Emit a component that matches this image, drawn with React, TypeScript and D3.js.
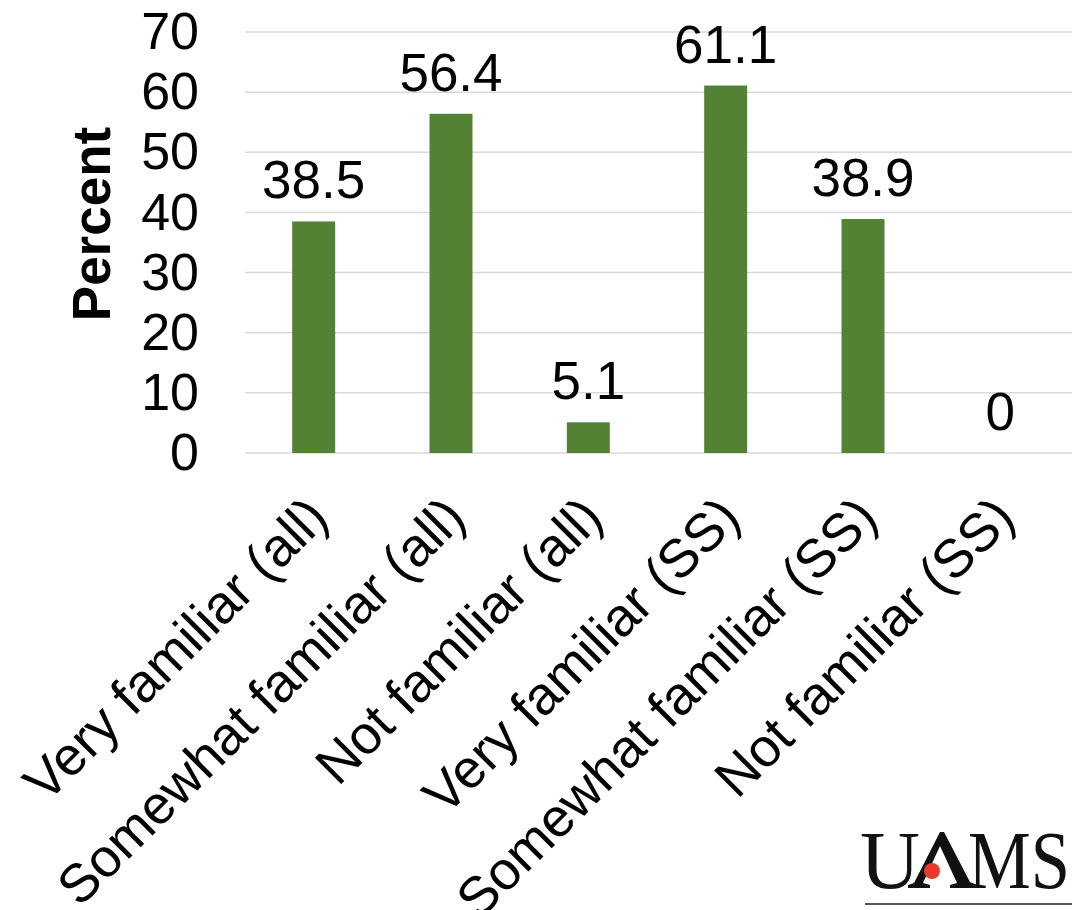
import React from "react";
import * as d3 from "d3";

const categories = [
  "Very familiar (all)",
  "Somewhat familiar (all)",
  "Not familiar (all)",
  "Very familiar (SS)",
  "Somewhat familiar (SS)",
  "Not familiar (SS)",
];
const values = [38.5, 56.4, 5.1, 61.1, 38.9, 0];
const yTicks = [0, 10, 20, 30, 40, 50, 60, 70];
const yLabel = "Percent";

const W = 1072;
const H = 910;
const FONT = "'Liberation Sans', Arial, Helvetica, sans-serif";
const GREEN = "#548235";
const GRID = "#d9d9d9";

export default function App() {
  const x = d3
    .scaleBand<string>()
    .domain(categories)
    .range([245, 1069])
    .paddingInner(0.687)
    .paddingOuter(0.3435);
  const y = d3.scaleLinear().domain([0, 70]).range([453, 32]);

  return (
    <div style={{ position: "absolute", left: 0, top: 0 }}>
      <svg width={W} height={H} viewBox={`0 0 ${W} ${H}`} style={{ display: "block", background: "#fff" }}>
        <rect x={0} y={0} width={W} height={H} fill="#fff" />
        {/* gridlines */}
        {yTicks.map((t) => (
          <line key={"g" + t} x1={245} x2={W} y1={y(t)} y2={y(t)} stroke={GRID} strokeWidth={1.5} />
        ))}
        {/* y tick labels */}
        {yTicks.map((t) => (
          <text
            key={"t" + t}
            x={199}
            y={y(t)}
            dy="0.33em"
            textAnchor="end"
            fontFamily={FONT}
            fontSize={52}
            fill="#000"
          >
            {t}
          </text>
        ))}
        {/* y axis title */}
        <text
          transform={`translate(110, 224) rotate(-90)`}
          textAnchor="middle"
          fontFamily={FONT}
          fontSize={53}
          fontWeight="bold"
          fill="#000"
        >
          {yLabel}
        </text>
        {/* bars */}
        {categories.map((c, i) => (
          <rect
            key={"b" + c}
            x={x(c)!}
            y={y(values[i])}
            width={x.bandwidth()}
            height={y(0) - y(values[i])}
            fill={GREEN}
          />
        ))}
        {/* data labels */}
        {categories.map((c, i) => (
          <text
            key={"l" + c}
            x={x(c)! + x.bandwidth() / 2}
            y={y(values[i]) - 23}
            textAnchor="middle"
            fontFamily={FONT}
            fontSize={53}
            fill="#000"
          >
            {values[i]}
          </text>
        ))}
        {/* x labels */}
        {categories.map((c) => (
          <text
            key={"x" + c}
            transform={`translate(${x(c)! + x.bandwidth() / 2 + 17}, 520) rotate(-45)`}
            textAnchor="end"
            fontFamily={FONT}
            fontSize={54}
            fill="#000"
          >
            {c}
          </text>
        ))}
        {/* UAMS logo */}
        <g fill="#111">
          <text x={860} y={888} fontFamily="'Liberation Serif', 'Times New Roman', serif" fontSize={82} textLength={60} lengthAdjust="spacingAndGlyphs">
            U
          </text>
          <path d="M940,832 L944,832 L970,882 L977,885 L977,888 L950,888 L950,885 L957,883 L940,846 L923,883 L930,885 L930,888 L908,888 L908,885 L914,883 Z" />
          <text x={968} y={888} fontFamily="'Liberation Serif', 'Times New Roman', serif" fontSize={82} textLength={102} lengthAdjust="spacingAndGlyphs">
            MS
          </text>
          <circle cx={932} cy={871} r={8} fill="#e8392f" />
          <rect x={865} y={903} width={207} height={2} fill="#555" />
        </g>
      </svg>
    </div>
  );
}
